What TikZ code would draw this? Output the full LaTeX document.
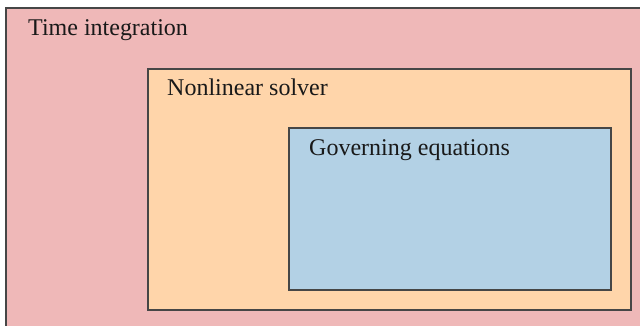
\documentclass[tikz,border=0pt]{standalone}
\usepackage{fontspec}
\setmainfont{Liberation Serif}
\definecolor{outerc}{RGB}{239,184,184}
\definecolor{midc}{RGB}{255,213,170}
\definecolor{innerc}{RGB}{179,209,229}
\definecolor{edgec}{RGB}{70,70,70}
\begin{document}
\begin{tikzpicture}[x=1pt,y=-1pt,
  box/.style={draw=edgec,line width=1.5pt,rectangle,inner sep=0pt,anchor=north west},
  lbl/.style={anchor=base west,inner sep=0pt,font=\fontsize{24}{28}\selectfont,text=black!90}]
\useasboundingbox (0,0) rectangle (640,325);
\clip (0,0) rectangle (640,325);
\fill[white] (0,0) rectangle (640,325);
\node[box,fill=outerc,minimum width=645pt,minimum height=330pt] (outer) at (5,7) {};
\node[box,fill=midc,minimum width=483pt,minimum height=241pt] (mid) at (147,68) {};
\node[box,fill=innerc,minimum width=322pt,minimum height=162pt] (inner) at (288,127) {};
\node[lbl] (t1) at ([xshift=23pt,yshift=-28pt]outer.north west) {Time integration};
\node[lbl] (t2) at ([xshift=20pt,yshift=-27pt]mid.north west) {Nonlinear solver};
\node[lbl] (t3) at ([xshift=21pt,yshift=-28pt]inner.north west) {Governing equations};
\end{tikzpicture}
\end{document}
